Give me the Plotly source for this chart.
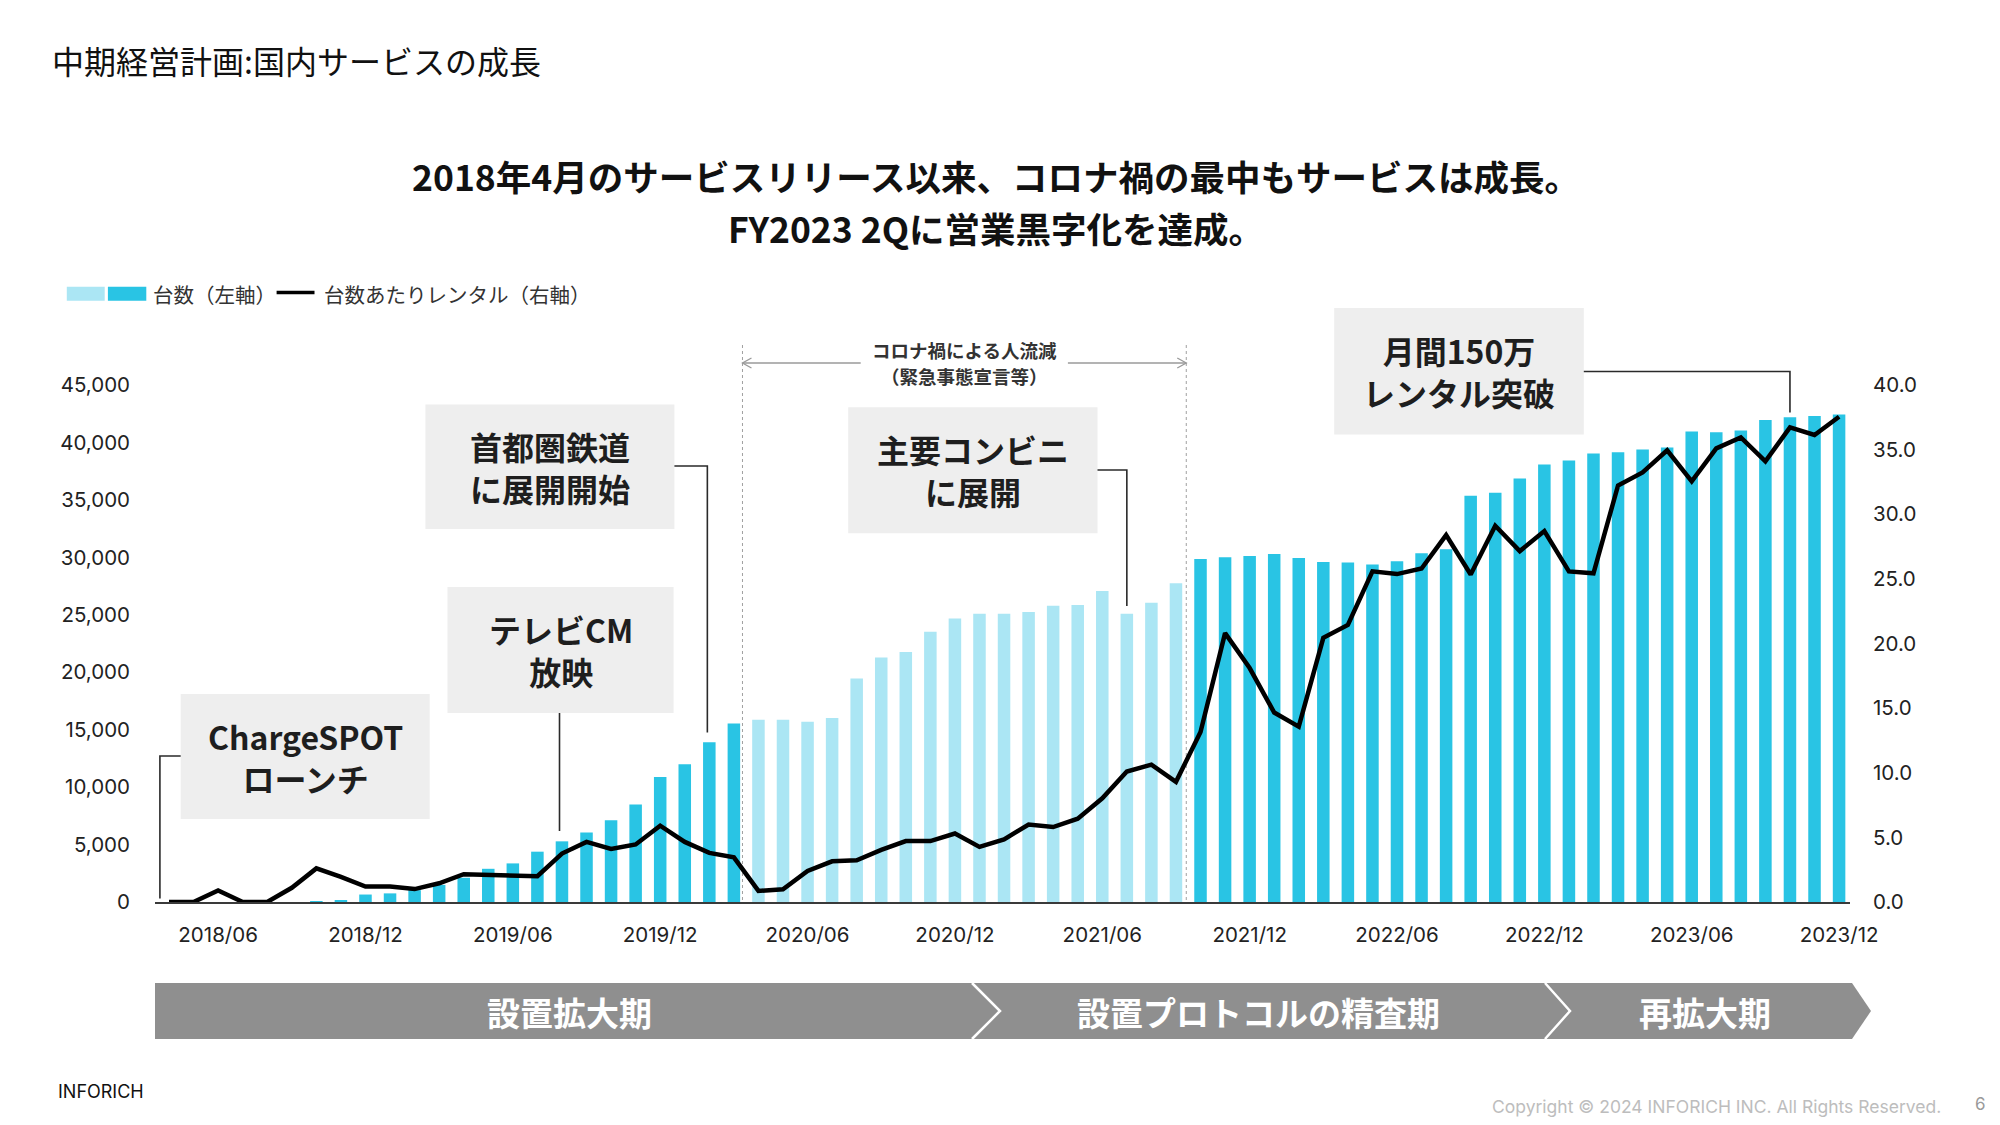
import plotly.graph_objects as go

# ---------------- data ----------------
months = [
    "2018/04", "2018/05", "2018/06", "2018/07", "2018/08", "2018/09", "2018/10", "2018/11", "2018/12",
    "2019/01", "2019/02", "2019/03", "2019/04", "2019/05", "2019/06", "2019/07", "2019/08", "2019/09", "2019/10", "2019/11", "2019/12",
    "2020/01", "2020/02", "2020/03", "2020/04", "2020/05", "2020/06", "2020/07", "2020/08", "2020/09", "2020/10", "2020/11", "2020/12",
    "2021/01", "2021/02", "2021/03", "2021/04", "2021/05", "2021/06", "2021/07", "2021/08", "2021/09", "2021/10", "2021/11", "2021/12",
    "2022/01", "2022/02", "2022/03", "2022/04", "2022/05", "2022/06", "2022/07", "2022/08", "2022/09", "2022/10", "2022/11", "2022/12",
    "2023/01", "2023/02", "2023/03", "2023/04", "2023/05", "2023/06", "2023/07", "2023/08", "2023/09", "2023/10", "2023/11", "2023/12",
]

# 台数 (left axis)
units = [
    0, 0, 0, 0, 0, 0, 60, 160, 650,
    750, 1030, 1490, 2110, 2890, 3360, 4380, 5280, 6060, 7120, 8480, 10880,
    12000, 13900, 15530, 15860, 15860, 15690, 16020, 19450, 21290, 21750, 23520, 24680,
    25080, 25080, 25250, 25780, 25850, 27080, 25080, 26050, 27740, 29860, 30000, 30120,
    30290, 29940, 29590, 29550, 29380, 29660, 30360, 30710, 35350, 35630, 36860, 38080,
    38430, 39030, 39140, 39380, 39560, 40960, 40890, 41030, 41950, 42190, 42300, 42440,
]

# 台数あたりレンタル (right axis)
rentals_per_unit = [
    0.0, 0.0, 0.9, 0.0, 0.0, 1.1, 2.6, 1.95, 1.2,
    1.2, 1.0, 1.45, 2.15, 2.1, 2.1, 2.0, 3.75, 4.65, 4.1, 4.45, 5.9,
    4.65, 3.8, 3.45, 0.86, 0.98, 2.4, 3.15, 3.23, 4.03, 4.71, 4.71, 5.3,
    4.26, 4.85, 6.0, 5.8, 6.45, 8.02, 10.09, 10.63, 9.3, 13.15, 20.8, 18.1,
    14.66, 13.57, 20.44, 21.44, 25.58, 25.37, 25.8, 28.39, 25.34, 29.11, 27.15, 28.7,
    25.58, 25.43, 32.23, 33.23, 34.95, 32.54, 35.1, 35.94, 34.1, 36.72, 36.13, 37.54,
]

x_tick_labels = ["2018/06", "2018/12", "2019/06", "2019/12", "2020/06", "2020/12",
                 "2021/06", "2021/12", "2022/06", "2022/12", "2023/06", "2023/12"]
left_ticks = [0, 5000, 10000, 15000, 20000, 25000, 30000, 35000, 40000, 45000]
left_tick_text = ["0", "5,000", "10,000", "15,000", "20,000", "25,000", "30,000", "35,000", "40,000", "45,000"]
right_ticks = [0, 5, 10, 15, 20, 25, 30, 35, 40]
right_tick_text = ["0.0", "5.0", "10.0", "15.0", "20.0", "25.0", "30.0", "35.0", "40.0"]

corona_start, corona_end = "2020/04", "2021/09"
phases = ["設置拡大期", "設置プロトコルの精査期", "再拡大期"]

callout_texts = ["ChargeSPOT<br>ローンチ", "テレビCM<br>放映", "首都圏鉄道<br>に展開開始",
                 "主要コンビニ<br>に展開", "月間150万<br>レンタル突破"]
callout_months = ["2018/04", "2019/08", "2020/02", "2021/07", "2023/10"]

title_text = "中期経営計画:国内サービスの成長"
headline_1 = "2018年4月のサービスリリース以来、コロナ禍の最中もサービスは成長。"
headline_2 = "FY2023 2Qに営業黒字化を達成。"
legend_bar_text = "台数（左軸）"
legend_line_text = "台数あたりレンタル（右軸）"
corona_text_1 = "コロナ禍による人流減"
corona_text_2 = "（緊急事態宣言等）"

# ---------------- styles / geometry ----------------
DARK = "#29C4E4"
LIGHT = "#ABE6F4"
BOX = "#EEEEEE"
BAND = "#8F8F8F"
TXT = "#1E1E1E"
CJK = "Noto Sans CJK JP"
NUM = "Inter, Noto Sans CJK JP"

OFF = 8                                        # page body margin
W, H = 2000 - 2 * OFF, 1125 - 2 * OFF          # figure size
PL, PR, PT, PB = 155, 1850, 260, 902           # plot area in window pixels
X0_PX, STEP_PX = 169.0, 24.56                  # first category centre / spacing
PX_PER_45K = 517.0
XMIN = (PL - X0_PX) / STEP_PX
XMAX = (PR - X0_PX) / STEP_PX
YMAX = 45000 * (PB - PT) / PX_PER_45K
Y2MAX = 40 * (PB - PT) / PX_PER_45K


def fx(px):
    return (px - PL) / (PR - PL)


def fy(py):
    return (PB - py) / (PB - PT)


def ix(idx):
    return (idx - XMIN) / (XMAX - XMIN)


def vy(v):
    return v / YMAX


i0, i1 = months.index(corona_start), months.index(corona_end)
bar_colors = [LIGHT if i0 <= i <= i1 else DARK for i in range(len(months))]

fig = go.Figure()
fig.add_trace(go.Bar(x=months, y=units, marker=dict(color=bar_colors, line=dict(width=0)),
                     width=0.51, yaxis="y", showlegend=False, hoverinfo="x+y"))
fig.add_trace(go.Scatter(x=months, y=rentals_per_unit, yaxis="y2", mode="lines",
                         line=dict(color="#000000", width=4.5), showlegend=False))

# ---------------- callouts ----------------
boxes_px = [(180.7, 694, 429.7, 819), (447.5, 587, 673.6, 713), (425.4, 404.6, 674.4, 529),
            (848.2, 407.3, 1097.5, 533.2), (1334.2, 308, 1583.8, 434.6)]
anchors_px = [("left", 756), ("bottom", 713), ("right", 466), ("right", 470), ("right", 371.5)]
dot_dx = [-0.37, -0.1, -0.08, 0.0, 0.0]
dot_gap = [300, 900, 850, 680, 420]

shapes = []
annotations = []
dot_x, dot_y = [], []
for k, txt in enumerate(callout_texts):
    x0, y0, x1, y1 = boxes_px[k]
    shapes.append(dict(type="rect", xref="paper", yref="paper", x0=fx(x0), x1=fx(x1), y0=fy(y1), y1=fy(y0),
                       fillcolor=BOX, line=dict(width=0), layer="above"))
    annotations.append(dict(xref="paper", yref="paper", x=fx((x0 + x1) / 2), y=fy((y0 + y1) / 2),
                            text=txt, showarrow=False, xanchor="center", yanchor="middle",
                            font=dict(family=CJK, size=32, color=TXT, weight=700)))
    mi = months.index(callout_months[k])
    dix = mi + dot_dx[k]
    dval = units[mi] + dot_gap[k]
    dot_x.append(dix)
    dot_y.append(dval)
    px_dot, py_dot = ix(dix), vy(dval)
    side, ay = anchors_px[k]
    if side == "bottom":
        path = f"M {px_dot},{fy(ay)} L {px_dot},{py_dot}"
    else:
        ax_ = x0 if side == "left" else x1
        path = f"M {fx(ax_)},{fy(ay)} L {px_dot},{fy(ay)} L {px_dot},{py_dot}"
    shapes.append(dict(type="path", xref="paper", yref="paper", path=path,
                       line=dict(color="#2A2A2A", width=1.6), layer="above"))

fig.add_trace(go.Scatter(x=dot_x, y=dot_y, mode="markers", yaxis="y", cliponaxis=False,
                         marker=dict(color="#000000", size=9), showlegend=False, hoverinfo="skip",
                         xaxis="x"))

# ---------------- corona period marker ----------------
cor_l, cor_r = i0 - 0.65, i1 + 0.42
for cx in (cor_l, cor_r):
    shapes.append(dict(type="line", xref="paper", yref="paper", x0=ix(cx), x1=ix(cx), y0=fy(345), y1=fy(PB),
                       line=dict(color="#A0A0A0", width=1, dash="dot"), layer="below"))
ay_px = 363
gap_l, gap_r = 860.7, 1067.9
shapes.append(dict(type="line", xref="paper", yref="paper", x0=ix(cor_l), x1=fx(gap_l), y0=fy(ay_px), y1=fy(ay_px),
                   line=dict(color="#9A9A9A", width=1.3)))
shapes.append(dict(type="line", xref="paper", yref="paper", x0=fx(gap_r), x1=ix(cor_r), y0=fy(ay_px), y1=fy(ay_px),
                   line=dict(color="#9A9A9A", width=1.3)))
ah_w = 9 / (PR - PL)
ah_h = 5 / (PB - PT)
lx, rx = ix(cor_l), ix(cor_r)
shapes.append(dict(type="path", xref="paper", yref="paper",
                   path=f"M {lx + ah_w},{fy(ay_px) + ah_h} L {lx},{fy(ay_px)} L {lx + ah_w},{fy(ay_px) - ah_h}",
                   line=dict(color="#9A9A9A", width=1.3)))
shapes.append(dict(type="path", xref="paper", yref="paper",
                   path=f"M {rx - ah_w},{fy(ay_px) + ah_h} L {rx},{fy(ay_px)} L {rx - ah_w},{fy(ay_px) - ah_h}",
                   line=dict(color="#9A9A9A", width=1.3)))
annotations.append(dict(xref="paper", yref="paper", x=fx(964), y=fy(350), text=corona_text_1, showarrow=False,
                        xanchor="center", yanchor="middle", font=dict(family=CJK, size=18.5, color="#333333", weight=700)))
annotations.append(dict(xref="paper", yref="paper", x=fx(964), y=fy(376), text=corona_text_2, showarrow=False,
                        xanchor="center", yanchor="middle", font=dict(family=CJK, size=18.5, color="#333333", weight=700)))

# ---------------- phase band ----------------
band_top, band_bot, band_mid = 983, 1039, 1011
bx0, bx_end, bx_tip = 155, 1852, 1871
shapes.append(dict(type="path", xref="paper", yref="paper",
                   path=(f"M {fx(bx0)},{fy(band_top)} L {fx(bx_end)},{fy(band_top)} L {fx(bx_tip)},{fy(band_mid)} "
                         f"L {fx(bx_end)},{fy(band_bot)} L {fx(bx0)},{fy(band_bot)} Z"),
                   fillcolor=BAND, line=dict(width=0)))
for c0, c1 in ((972, 1000), (1545, 1570)):
    shapes.append(dict(type="path", xref="paper", yref="paper",
                       path=f"M {fx(c0)},{fy(band_top)} L {fx(c1)},{fy(band_mid)} L {fx(c0)},{fy(band_bot)}",
                       line=dict(color="#FFFFFF", width=2.5)))
for name, cx in zip(phases, (569, 1258, 1705)):
    annotations.append(dict(xref="paper", yref="paper", x=fx(cx), y=fy(band_mid + 1), text=name, showarrow=False,
                            xanchor="center", yanchor="middle",
                            font=dict(family=CJK, size=33, color="#FFFFFF", weight=700)))

# ---------------- legend (custom) ----------------
shapes.append(dict(type="rect", xref="paper", yref="paper", x0=fx(66.8), x1=fx(104.7), y0=fy(300.7), y1=fy(286.7),
                   fillcolor=LIGHT, line=dict(width=0)))
shapes.append(dict(type="rect", xref="paper", yref="paper", x0=fx(107.9), x1=fx(146.3), y0=fy(300.7), y1=fy(286.7),
                   fillcolor=DARK, line=dict(width=0)))
shapes.append(dict(type="line", xref="paper", yref="paper", x0=fx(276.6), x1=fx(314.5), y0=fy(292.5), y1=fy(292.5),
                   line=dict(color="#000000", width=3.5)))
annotations.append(dict(xref="paper", yref="paper", x=fx(151), y=fy(294), text=legend_bar_text, showarrow=False,
                        xanchor="left", yanchor="middle", font=dict(family=CJK, size=20.5, color="#333333")))
annotations.append(dict(xref="paper", yref="paper", x=fx(322), y=fy(294), text=legend_line_text, showarrow=False,
                        xanchor="left", yanchor="middle", font=dict(family=CJK, size=20.5, color="#333333")))

# ---------------- titles / footer ----------------
annotations.append(dict(xref="paper", yref="paper", x=fx(50), y=fy(60), text=title_text, showarrow=False,
                        xanchor="left", yanchor="middle", font=dict(family=CJK, size=32, color="#111111")))
annotations.append(dict(xref="paper", yref="paper", x=fx(996), y=fy(175), text=headline_1, showarrow=False,
                        xanchor="center", yanchor="middle", font=dict(family=CJK, size=35.5, color="#111111", weight=700)))
annotations.append(dict(xref="paper", yref="paper", x=fx(996), y=fy(227), text=headline_2, showarrow=False,
                        xanchor="center", yanchor="middle", font=dict(family=CJK, size=35.5, color="#111111", weight=700)))
annotations.append(dict(xref="paper", yref="paper", x=fx(56), y=fy(1091), text="INFORICH", showarrow=False,
                        xanchor="left", yanchor="middle", font=dict(family=NUM, size=18, color="#111111")))
annotations.append(dict(xref="paper", yref="paper", x=fx(1943), y=fy(1106),
                        text="Copyright © 2024 INFORICH INC. All Rights Reserved.", showarrow=False,
                        xanchor="right", yanchor="middle", font=dict(family=NUM, size=17.5, color="#BDBDBD")))
annotations.append(dict(xref="paper", yref="paper", x=fx(1980), y=fy(1104), text="6", showarrow=False,
                        xanchor="center", yanchor="middle", font=dict(family=NUM, size=17, color="#9A9A9A")))

fig.update_layout(
    width=W, height=H,
    margin=dict(l=PL - OFF, r=W - (PR - OFF), t=PT - OFF, b=H - (PB - OFF), pad=0),
    paper_bgcolor="#FFFFFF", plot_bgcolor="rgba(0,0,0,0)",
    bargap=0.49, showlegend=False,
    xaxis=dict(type="category", categoryorder="array", categoryarray=months, range=[XMIN, XMAX],
               tickvals=x_tick_labels, ticktext=x_tick_labels, showgrid=False, zeroline=False,
               showline=True, linecolor="#3A3A3A", linewidth=2, ticks="", ticklabelstandoff=13,
               tickfont=dict(family=NUM, size=20.5, color="#222222")),
    yaxis=dict(range=[0, YMAX], tickvals=left_ticks, ticktext=left_tick_text, showgrid=False, zeroline=False,
               showline=False, ticks="", ticklabelstandoff=24,
               tickfont=dict(family=NUM, size=20.5, color="#222222")),
    yaxis2=dict(range=[0, Y2MAX], overlaying="y", side="right", tickvals=right_ticks, ticktext=right_tick_text,
                showgrid=False, zeroline=False, showline=False, ticks="", ticklabelstandoff=22,
                tickfont=dict(family=NUM, size=20.5, color="#222222")),
    shapes=shapes,
    annotations=annotations,
)

fig.write_html("out.html")
